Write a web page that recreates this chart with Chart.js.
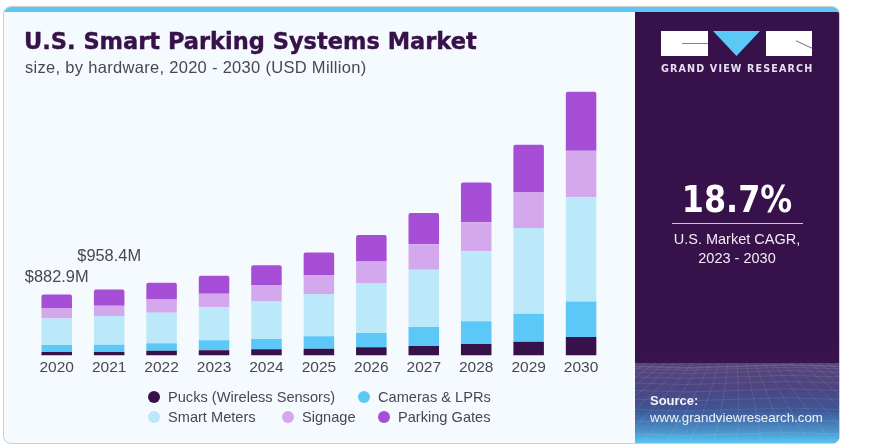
<!DOCTYPE html>
<html>
<head>
<meta charset="utf-8">
<script src="https://cdn.jsdelivr.net/npm/chart.js@4"></script>
<style>
html, body { margin: 0; padding: 0; background: #fff; overflow: hidden; }
body { width: 870px; height: 448px; position: relative; font-family: "Liberation Sans", Arial, sans-serif; }
#card { position: absolute; left: 3px; top: 6px; width: 835px; height: 436px; background: #f5fafe; border: 1px solid #cfcfd2; border-radius: 8px; overflow: hidden; }
#strip { position: absolute; left: 0; top: 0; right: 0; height: 5px; background: #5bc8f5; }
#side { position: absolute; left: 631px; top: 5px; width: 204px; height: 431px; background: linear-gradient(#371149 0%, #371149 75%, #3f1c58 100%); overflow: hidden; }
#mesh { position: absolute; left: 0; top: 351px; width: 204px; height: 80px; background: linear-gradient(#57457a 0%, #4d4480 30%, #3f5595 58%, #4a8fc6 84%, #5ac6f2 100%); }
#chart-wrap { position: absolute; left: 0; top: 0; width: 870px; height: 448px; }
.txt { position: absolute; white-space: nowrap; }
#title { left: 24px; top: 28px; font: bold 22.5px "DejaVu Sans", sans-serif; color: #371149; -webkit-text-stroke: .4px #371149; }
#subtitle { left: 25px; top: 58px; font-size: 16.5px; letter-spacing: .3px; color: #4c4652; }
.leg { position: absolute; font-size: 14.6px; color: #4c4652; white-space: nowrap; }
.leg i { position: absolute; left: -20px; top: 2px; width: 12px; height: 12px; border-radius: 50%; }
.logo { position: absolute; background: #fff; }
#tri { position: absolute; left: 713px; top: 31px; width: 47px; height: 25px; background: #5bc8f5; clip-path: polygon(0 0, 100% 0, 50% 100%); }
#brand { left: 661px; top: 63px; font: bold 9.6px "DejaVu Sans", sans-serif; letter-spacing: 1.14px; color: #e6dff0; }
#cagr { left: 636px; width: 202px; text-align: center; top: 178px; font: bold 37px "DejaVu Sans", sans-serif; color: #fff; transform: scaleX(.86); }
#rule { position: absolute; left: 672px; top: 223px; width: 131px; height: 1px; background: #cfc6d8; }
#cagrnote { left: 636px; width: 202px; text-align: center; top: 230px; font-size: 14.5px; line-height: 18.5px; color: #f0ecf4; }
#source { left: 650px; top: 393px; font: bold 13px "Liberation Sans", sans-serif; color: #f3f3f8; }
#url { left: 650px; top: 410px; font-size: 13.3px; color: #eef2f8; }
</style>
</head>
<body>
<div id="card">
  <div id="strip"></div>
  <div id="side"><svg id="mesh" viewBox="0 0 204 80"></svg></div>
</div>
<div id="chart-wrap"><canvas id="chart" width="870" height="448"></canvas></div>

<div class="txt" id="title">U.S. Smart Parking Systems Market</div>
<div class="txt" id="subtitle">size, by hardware, 2020 - 2030 (USD Million)</div>
<div id="legend"></div>

<div class="logo" style="left:661px;top:31px;width:47px;height:25px"></div>
<div class="logo" style="left:682px;top:43px;width:26px;height:1px;background:#8d7aa0"></div>
<div id="tri"></div>
<div class="logo" style="left:766px;top:31px;width:46px;height:25px"></div>
<div class="logo" style="left:795px;top:44px;width:18px;height:1px;background:#8d7aa0;transform:rotate(25deg)"></div>
<div class="txt" id="brand">GRAND VIEW RESEARCH</div>
<div class="txt" id="cagr">18.7%</div>
<div id="rule"></div>
<div class="txt" id="cagrnote">U.S. Market CAGR,<br>2023 - 2030</div>
<div class="txt" id="source">Source:</div>
<div class="txt" id="url">www.grandviewresearch.com</div>

<script>
// Data (USD Million)
const years = ['2020', '2021', '2022', '2023', '2024', '2025', '2026', '2027', '2028', '2029', '2030'];
const pucks = [48, 48, 69, 73, 88, 98, 117, 136, 165, 200, 267];
const cameras = [102, 107, 107, 146, 150, 180, 209, 277, 331, 404, 515];
const smartMeters = [385, 419, 442, 482, 545, 613, 720, 832, 1018, 1245, 1514];
const signage = [146, 146, 194, 194, 238, 277, 317, 369, 419, 526, 676];
const parkingGates = [201.9, 238.4, 244, 263, 288, 326, 384, 453, 580, 686, 857];
const totalLabels = ['$882.9M', '$958.4M'];

// 1. Bar label plugin, only the first two years carry a total
const totalLabelPlugin = {
  id: 'totalLabels',
  afterDatasetsDraw(chart) {
    const ctx = chart.ctx;
    const top = chart.getDatasetMeta(4).data;
    const lift = [17, 33];
    ctx.save();
    ctx.font = '16.4px "Liberation Sans", sans-serif';
    ctx.fillStyle = '#4c4652';
    ctx.textAlign = 'center';
    ctx.textBaseline = 'middle';
    totalLabels.forEach((label, i) => {
      ctx.fillText(label, top[i].x, top[i].y - lift[i]);
    });
    ctx.restore();
  }
};

// 2. Chart
Chart.defaults.font.family = '"Liberation Sans", sans-serif';
const chart = new Chart(document.getElementById('chart').getContext('2d'), {
  type: 'bar',
  data: {
    labels: years,
    datasets: [
      { label: 'Pucks (Wireless Sensors)', data: pucks, backgroundColor: '#371149' },
      { label: 'Cameras & LPRs', data: cameras, backgroundColor: '#5bc8f8' },
      { label: 'Smart Meters', data: smartMeters, backgroundColor: '#bce9fa' },
      { label: 'Signage', data: signage, backgroundColor: '#d3a8ec' },
      { label: 'Parking Gates', data: parkingGates, backgroundColor: '#a64fd6',
        borderRadius: { topLeft: 2, topRight: 2 }, borderSkipped: false }
    ]
  },
  options: {
    responsive: false,
    animation: false,
    devicePixelRatio: 1,
    layout: { padding: { left: 30.5, right: 262.7, top: 80, bottom: 76 } },
    datasets: { bar: { categoryPercentage: 1, barPercentage: 0.582 } },
    scales: {
      x: {
        stacked: true,
        grid: { display: false },
        border: { display: false },
        ticks: { color: '#4c4652', font: { size: 15.5 }, padding: -5, maxRotation: 0, autoSkip: false }
      },
      y: { stacked: true, display: false, min: 0, max: 4000 }
    },
    plugins: { legend: { display: false }, tooltip: { enabled: false } }
  },
  plugins: [totalLabelPlugin]
});

// 3. Legend in two rows, built from the datasets
const legendPos = [[168, 389], [378, 389], [168, 409], [302, 409], [398, 409]];
const legendBox = document.getElementById('legend');
chart.data.datasets.forEach((ds, i) => {
  const el = document.createElement('div');
  el.className = 'leg';
  el.style.left = legendPos[i][0] + 'px';
  el.style.top = legendPos[i][1] + 'px';
  el.textContent = ds.label;
  const dot = document.createElement('i');
  dot.style.background = ds.backgroundColor;
  el.appendChild(dot);
  legendBox.appendChild(el);
});

// 4. Wire mesh decoration at the foot of the side panel
const mesh = document.getElementById('mesh');
let lines = '';
for (let r = 0; r < 11; r++) {
  const y = 3 + r * r * 0.68;
  lines += `<path d="M0 ${y} Q51 ${y + 3} 102 ${y} T204 ${y}"/>`;
}
for (let c = -16; c <= 16; c++) {
  const xTop = 102 + c * 9;
  const xBot = 102 + c * 24;
  lines += `<path d="M${xTop} 0 Q${(xTop + xBot) / 2 + 3} 45 ${xBot} 80"/>`;
}
mesh.innerHTML = `<g fill="none" stroke="#fff" stroke-opacity=".13" stroke-width=".7">${lines}</g>`;
</script>
</body>
</html>
